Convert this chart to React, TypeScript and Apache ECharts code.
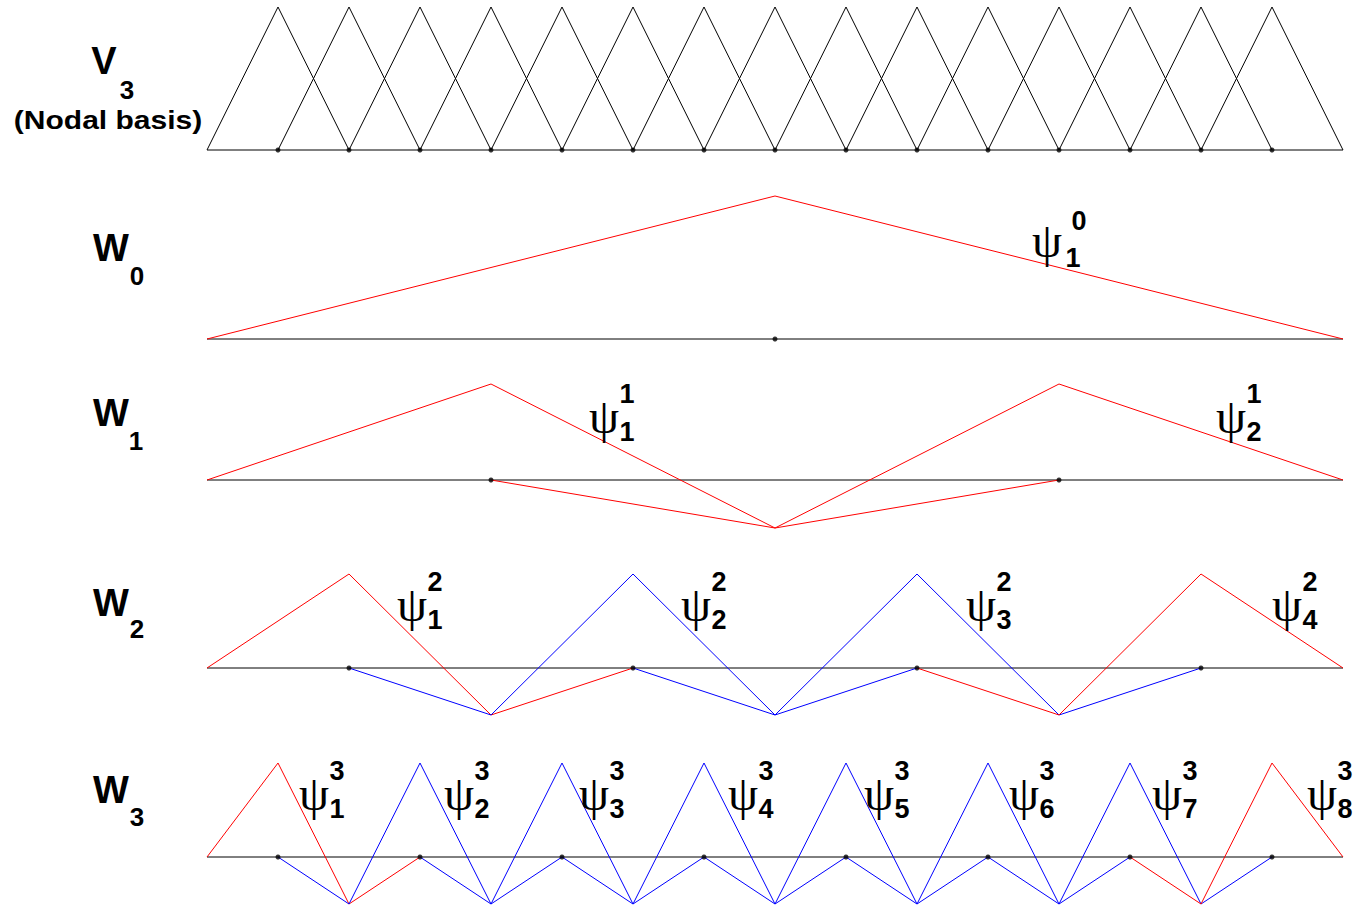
import React, { useEffect, useRef } from "react";
import * as echarts from "echarts";

// ---------- data (x in node units 0..16, y in basis-function units) ----------
const X_MIN = 0;
const X_MAX = 16;

// V3 nodal hats: interior node centers
const V3_NODES = [1, 2, 3, 4, 5, 6, 7, 8, 9, 10, 11, 12, 13, 14, 15];

// W0
const PSI0_1 = [[0, 0], [8, 1], [16, 0]];
const W0_DOTS = [8];

// W1
const PSI1_1 = [[0, 0], [4, 1], [8, -0.5], [12, 0]];
const PSI1_2 = [[4, 0], [8, -0.5], [12, 1], [16, 0]];
const W1_DOTS = [4, 12];

// W2
const PSI2_1 = [[0, 0], [2, 1], [4, -0.5], [6, 0]];
const PSI2_2 = [[2, 0], [4, -0.5], [6, 1], [8, -0.5], [10, 0]];
const PSI2_3 = [[6, 0], [8, -0.5], [10, 1], [12, -0.5], [14, 0]];
const PSI2_4 = [[10, 0], [12, -0.5], [14, 1], [16, 0]];
const W2_DOTS = [2, 6, 10, 14];

// W3
const PSI3_1 = [[0, 0], [1, 1], [2, -0.5], [3, 0]];
const PSI3_2 = [[1, 0], [2, -0.5], [3, 1], [4, -0.5], [5, 0]];
const PSI3_3 = [[3, 0], [4, -0.5], [5, 1], [6, -0.5], [7, 0]];
const PSI3_4 = [[5, 0], [6, -0.5], [7, 1], [8, -0.5], [9, 0]];
const PSI3_5 = [[7, 0], [8, -0.5], [9, 1], [10, -0.5], [11, 0]];
const PSI3_6 = [[9, 0], [10, -0.5], [11, 1], [12, -0.5], [13, 0]];
const PSI3_7 = [[11, 0], [12, -0.5], [13, 1], [14, -0.5], [15, 0]];
const PSI3_8 = [[13, 0], [14, -0.5], [15, 1], [16, 0]];
const W3_DOTS = [1, 3, 5, 7, 9, 11, 13, 15];

// labels
const ROW_NAMES = ["V", "W", "W", "W", "W"];
const ROW_SUBS = ["3", "0", "1", "2", "3"];
const PSI_SUPS = ["0", "1", "1", "2", "2", "2", "2", "3", "3", "3", "3", "3", "3", "3", "3"];
const PSI_SUBS = ["1", "1", "2", "1", "2", "3", "4", "1", "2", "3", "4", "5", "6", "7", "8"];

// ---------- layout ----------
const RED = "#ff0000";
const BLUE = "#0000ff";
const BLACK = "#000000";

const GRIDS = [
  { top: 7, height: 143, min: 0, max: 1 },
  { top: 196, height: 143, min: 0, max: 1 },
  { top: 384, height: 144, min: -0.5, max: 1 },
  { top: 574, height: 141, min: -0.5, max: 1 },
  { top: 763, height: 141, min: -0.5, max: 1 },
];

const ROW_LABEL_POS = [
  { x: 104, y: 61, sx: 127, sy: 90 },
  { x: 111, y: 248, sx: 137, sy: 276 },
  { x: 111, y: 413, sx: 136, sy: 441 },
  { x: 111, y: 603, sx: 137, sy: 629 },
  { x: 111, y: 790, sx: 137, sy: 817 },
];

const PSI_POS = [
  { x: 1048, y: 242, supx: 1079, supy: 221, subx: 1073, suby: 258 },
  { x: 605, y: 418 },
  { x: 1232, y: 418 },
  { x: 413, y: 606 },
  { x: 697, y: 606 },
  { x: 982, y: 606 },
  { x: 1288, y: 606 },
  { x: 315, y: 795 },
  { x: 460, y: 795 },
  { x: 595, y: 795 },
  { x: 744, y: 795 },
  { x: 880, y: 795 },
  { x: 1025, y: 795 },
  { x: 1168, y: 795 },
  { x: 1323, y: 795 },
];

const SANS = "'Liberation Sans', Arial, Helvetica, sans-serif";
const SERIF = "'Liberation Serif', 'Times New Roman', serif";

function txt(text: string, x: number, y: number, size: number, family: string, bold: boolean, extra: any = {}) {
  return {
    type: "text",
    x,
    y,
    silent: true,
    z: 100,
    ...extra,
    style: {
      text,
      fill: BLACK,
      fontSize: size,
      fontFamily: family,
      fontWeight: bold ? "bold" : "normal",
      align: "center",
      verticalAlign: "middle",
      textAlign: "center",
      textVerticalAlign: "middle",
    },
  };
}

function lineSeries(data: number[][], color: string, idx: number, z = 2) {
  return {
    type: "line",
    data,
    xAxisIndex: idx,
    yAxisIndex: idx,
    showSymbol: false,
    symbol: "none",
    clip: false,
    silent: true,
    z,
    lineStyle: { color, width: 1 },
  };
}

function dotSeries(nodes: number[], idx: number) {
  return {
    type: "scatter",
    data: nodes.map((n) => [n, 0]),
    xAxisIndex: idx,
    yAxisIndex: idx,
    symbol: "circle",
    symbolSize: 5,
    clip: false,
    silent: true,
    z: 10,
    itemStyle: { color: BLACK },
  };
}

export default function App() {
  const ref = useRef<HTMLDivElement>(null);

  useEffect(() => {
    if (!ref.current) return;
    const chart = echarts.init(ref.current, undefined, { renderer: "svg" });

    const grid = GRIDS.map((g) => ({ left: 207, width: 1136, top: g.top, height: g.height, containLabel: false }));
    const xAxis = GRIDS.map((_, i) => ({
      type: "value",
      gridIndex: i,
      min: X_MIN,
      max: X_MAX,
      show: false,
    }));
    const yAxis = GRIDS.map((g, i) => ({
      type: "value",
      gridIndex: i,
      min: g.min,
      max: g.max,
      show: false,
    }));

    const series: any[] = [];
    for (let i = 0; i < 5; i++) {
      series.push(lineSeries([[X_MIN, 0], [X_MAX, 0]], BLACK, i, 1));
    }
    V3_NODES.forEach((n) => {
      series.push(lineSeries([[n - 1, 0], [n, 1], [n + 1, 0]], BLACK, 0));
    });
    series.push(dotSeries(V3_NODES, 0));
    series.push(lineSeries(PSI0_1, RED, 1));
    series.push(dotSeries(W0_DOTS, 1));
    series.push(lineSeries(PSI1_1, RED, 2));
    series.push(lineSeries(PSI1_2, RED, 2));
    series.push(dotSeries(W1_DOTS, 2));
    series.push(lineSeries(PSI2_1, RED, 3));
    series.push(lineSeries(PSI2_2, BLUE, 3));
    series.push(lineSeries(PSI2_3, BLUE, 3));
    series.push(lineSeries(PSI2_4, RED, 3));
    series.push(dotSeries(W2_DOTS, 3));
    series.push(lineSeries(PSI3_1, RED, 4));
    [PSI3_2, PSI3_3, PSI3_4, PSI3_5, PSI3_6, PSI3_7].forEach((d) => series.push(lineSeries(d, BLUE, 4)));
    series.push(lineSeries(PSI3_8, RED, 4));
    series.push(dotSeries(W3_DOTS, 4));

    const graphic: any[] = [];
    ROW_NAMES.forEach((name, i) => {
      const p = ROW_LABEL_POS[i];
      graphic.push(txt(name, p.x, p.y, 38, SANS, true));
      graphic.push(txt(ROW_SUBS[i], p.sx, p.sy, 26, SANS, true));
    });
    graphic.push(txt("(Nodal basis)", 108, 120, 25, SANS, true, { scaleX: 1.2 }));

    PSI_SUPS.forEach((sup, i) => {
      const p: any = PSI_POS[i];
      const supx = p.supx ?? p.x + 22;
      const supy = p.supy ?? p.y - 24;
      const subx = p.subx ?? p.x + 22;
      const suby = p.suby ?? p.y + 14;
      graphic.push(txt("\u03C8", p.x - 1, p.y - 2, 48, SERIF, false));
      graphic.push(txt(sup, supx, supy, 27, SANS, true));
      graphic.push(txt(PSI_SUBS[i], subx, suby, 27, SANS, true));
    });

    chart.setOption({
      animation: false,
      backgroundColor: "#ffffff",
      grid,
      xAxis,
      yAxis,
      series,
      graphic,
    });

    return () => chart.dispose();
  }, []);

  return (
    <div
      ref={ref}
      style={{ position: "absolute", left: 0, top: 0, width: 1357, height: 906, background: "#fff" }}
    />
  );
}
